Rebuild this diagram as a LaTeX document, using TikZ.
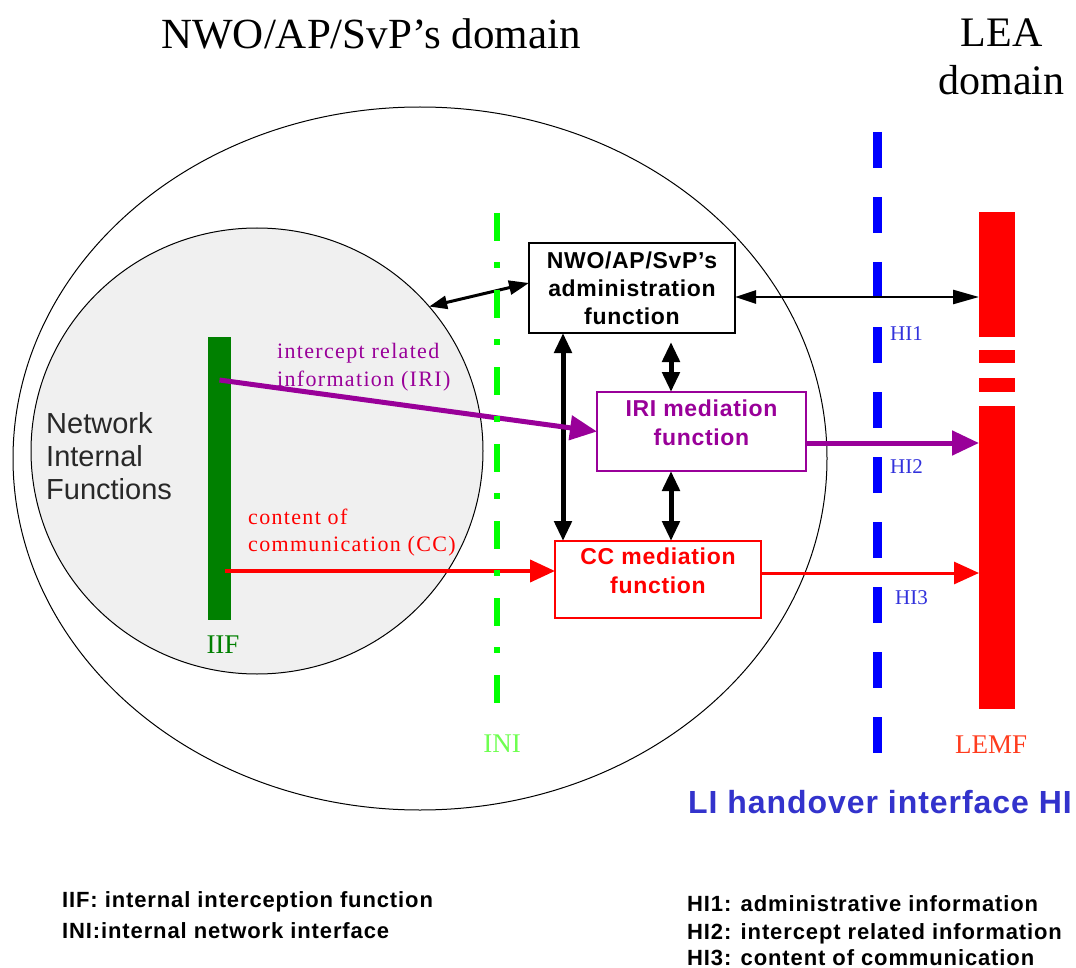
\documentclass[tikz,border=0pt]{standalone}
\usepackage{fontspec}
\setmainfont{Liberation Serif}
\setsansfont{Liberation Sans}
\newfontfamily\boxfont[LetterSpace=3]{Liberation Sans}
\newfontfamily\legfont[LetterSpace=4]{Liberation Sans}
\newfontfamily\lblfont[LetterSpace=6]{Liberation Serif}
\usetikzlibrary{arrows.meta,shapes.geometric,calc}
\definecolor{ipurple}{RGB}{153,0,153}
\definecolor{dgreen}{RGB}{0,128,0}
\definecolor{bgreen}{RGB}{0,255,0}
\definecolor{inigreen}{RGB}{110,255,80}
\definecolor{hiblue}{RGB}{0,0,255}
\definecolor{hitext}{RGB}{50,50,220}
\definecolor{liblue}{RGB}{51,51,204}
\definecolor{lemftext}{RGB}{255,60,30}
\definecolor{circgray}{RGB}{240,240,240}
\definecolor{nettext}{RGB}{40,40,40}
\begin{document}
\begin{tikzpicture}[x=1pt,y=-1pt,
  fbox/.style={rectangle,inner sep=0pt,outer sep=0pt,line width=1.5pt,fill=white,align=center,
    font=\fontsize{23}{28}\selectfont\boxfont\bfseries},
  ftext/.style={inner sep=0pt,align=center,font=\fontsize{23}{29}\selectfont\boxfont\bfseries},
  blkarrow/.style={black,line width=3pt,{Triangle[length=18pt,width=13pt]}-{Triangle[length=20pt,width=14pt]}},
  hblk/.style={black,line width=2.5pt,{Triangle[length=21pt,width=13pt]}-{Triangle[length=26pt,width=14pt]}},
  vblk/.style={black,line width=5pt,{Triangle[length=20pt,width=17pt]}-{Triangle[length=20pt,width=17pt]}},
  purparrow/.style={ipurple,line width=5pt,-{Triangle[length=27pt,width=24pt]}},
  redarrow/.style={red,line width=4pt,-{Triangle[length=25pt,width=22pt]}},
  flowlbl/.style={inner sep=0pt,anchor=base west,align=left},
  serlbl/.style={inner sep=0pt,anchor=base,font=\fontsize{27}{30}\selectfont},
  hilbl/.style={inner sep=0pt,anchor=base west,text=hitext,font=\fontsize{21}{24}\selectfont},
  legendtxt/.style={inner sep=0pt,anchor=base west,font=\fontsize{22}{28}\selectfont\legfont\bfseries}
]
\useasboundingbox (0,0) rectangle (1076,968);
\fill[white] (0,0) rectangle (1076,968);

% titles (base anchor of a multi-line node = last line)
\node[inner sep=0pt,anchor=base,font=\fontsize{43}{48}\selectfont] (title) at (371,49) {NWO/AP/SvP’s domain};
\node[inner sep=0pt,anchor=base,align=center,font=\fontsize{42}{48}\selectfont] (lea) at (1001.5,95) {LEA\\domain};

% domain ellipse and network internal functions
\node[ellipse,draw=black,line width=1pt,minimum width=814pt,minimum height=703pt,inner sep=0pt,outer sep=0pt] (nwo) at (420,458.5) {};
\node[ellipse,draw=black,fill=circgray,line width=1pt,minimum width=452pt,minimum height=446pt,inner sep=0pt,outer sep=0pt] (nif) at (257,451) {};
\node[flowlbl,text=nettext,font=\fontsize{29}{33}\selectfont\sffamily] (nettxt) at (46,499) {Network\\Internal\\Functions};

% IIF bar
\node[fill=dgreen,minimum width=23pt,minimum height=283pt,inner sep=0pt,outer sep=0pt] (iif) at (219.5,478.5) {};
\node[serlbl,text=dgreen] (iiflbl) at (223,653) {IIF};

% LEMF bar
\node[minimum width=36pt,minimum height=497pt,inner sep=0pt,outer sep=0pt] (lemf) at (997,460.5) {};
\fill[red] (979,212) rectangle (1015,337);
\fill[red] (979,350) rectangle (1015,363);
\fill[red] (979,378) rectangle (1015,392);
\fill[red] (979,406) rectangle (1015,709);
\node[serlbl,text=lemftext] (lemflbl) at (991,753) {LEMF};

% HI dashed line
\coordinate (hitop) at (877.5,132);
\coordinate (hibot) at (877.5,754);
\draw[hiblue,line width=9pt,dash pattern=on 36pt off 29pt] (hitop) -- (hibot);
\node[hilbl] (hi1) at (890,341) {HI1};
\node[hilbl] (hi2) at (890,473) {HI2};
\node[hilbl] (hi3) at (895,604) {HI3};

% boxes
\node[fbox,draw=black,minimum width=206pt,minimum height=90pt] (admin) at (632,288) {NWO/AP/SvP’s\\administration\\function};
\node[fbox,draw=ipurple,minimum width=209pt,minimum height=79pt] (iri) at (701.5,431.5) {};
\node[ftext,text=ipurple] (iritxt) at (701.5,423) {IRI mediation\\function};
\node[fbox,draw=red,minimum width=206pt,minimum height=77pt] (cc) at (658,579.5) {};
\node[ftext,text=red] (cctxt) at (658,571) {CC mediation\\function};

% flow labels
\node[flowlbl,text=ipurple,font=\fontsize{22}{28.5}\selectfont\lblfont] (irilbl) at (277,386.5) {intercept related\\information (IRI)};
\node[flowlbl,text=red,font=\fontsize{22}{27}\selectfont\lblfont] (cclbl) at (248,551) {content of\\communication (CC)};

% connectors
\draw[blkarrow] (nif.40) -- ([yshift=5pt]admin.west);
\draw[hblk] ([yshift=-9pt]admin.east) -- ([yshift=-9pt]admin.east -| lemf.west);
\coordinate (ac1) at ($(admin.south west)+(34,0)$);
\draw[vblk] (ac1) -- (ac1 |- cc.north);
\coordinate (ai1) at ($(admin.south west)+(142,9)$);
\draw[vblk] (ai1) -- (ai1 |- iri.north);
\coordinate (ic1) at ($(iri.south west)+(74,0)$);
\draw[vblk] (ic1) -- (ic1 |- cc.north);
\coordinate (irisrc) at ($(iif.north)+(0,43)$);
\draw[purparrow] (irisrc) -- (iri.west);
\coordinate (ccsrc) at ($(iif.north)+(5,234)$);
\draw[redarrow] (ccsrc) -- (ccsrc -| cc.west);
\draw[purparrow] ([yshift=-11.5pt]iri.east) -- ([yshift=-11.5pt]iri.east -| lemf.west);
\draw[redarrow,line width=3pt] ([yshift=6.5pt]cc.east) -- ([yshift=6.5pt]cc.east -| lemf.west);

% INI dash-dot line
\coordinate (initop) at (497,213);
\coordinate (inibot) at (497,703);
\draw[bgreen,line width=6.5pt,dash pattern=on 28pt off 21pt on 6pt off 22pt] (initop) -- (inibot);
\node[serlbl,text=inigreen] (inilbl) at (502,752) {INI};

% LI handover interface
\node[inner sep=0pt,anchor=base,text=liblue,font=\fontsize{32}{36}\selectfont\boxfont\bfseries] (hilabel) at (880,813) {LI handover interface HI};

% legend
\node[legendtxt] (leg1) at (62,907) {IIF: internal interception function};
\node[legendtxt] (leg2) at (62,938) {INI:internal network interface};
\node[legendtxt] (leg3) at (687,911) {HI1: administrative information};
\node[legendtxt] (leg4) at (687,939) {HI2: intercept related information};
\node[legendtxt] (leg5) at (687,965) {HI3: content of communication};
\end{tikzpicture}
\end{document}
